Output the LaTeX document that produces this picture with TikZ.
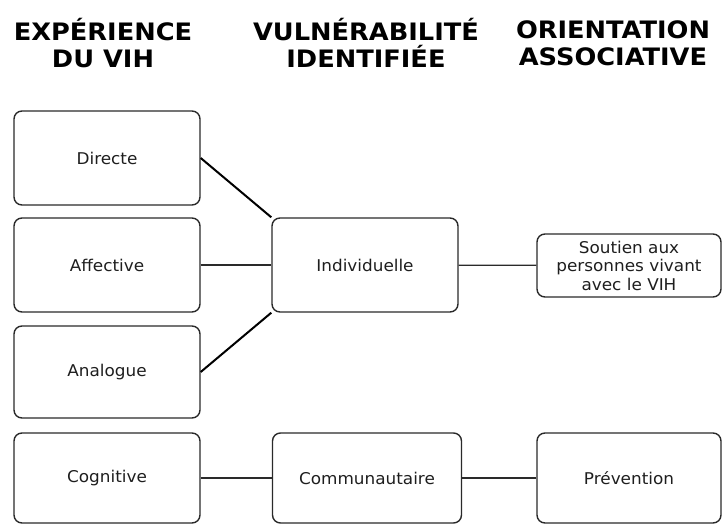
\documentclass[tikz,border=0pt]{standalone}
\usepackage{fontspec}
\setmainfont[FakeStretch=1.04]{DejaVu Sans}
\newfontfamily\headfont[FakeStretch=1.07]{DejaVu Sans}
\usepackage{xcolor}
\usepackage{tikz}
\definecolor{boxline}{HTML}{2A2A2A}
\definecolor{boxtext}{HTML}{1E1E1E}
\tikzset{
    head/.style={font=\headfont\fontsize{24}{27}\selectfont\bfseries, align=center, text=black},
    cell/.style={draw=boxline, line width=1.4pt, rounded corners=8pt, inner sep=2pt,
        font=\fontsize{16.2}{18.5}\selectfont, text=boxtext, align=center},
    link/.style={draw=boxline, line width=1.2pt},
    slant/.style={draw=black, line width=2pt}
}

\begin{document}
\begin{tikzpicture}[x=1pt, y=-1pt]
        \useasboundingbox (0,0) rectangle (724,524);

        \node[head] (hexp)  at (103,43) {EXPÉRIENCE\\DU VIH};
        \node[head] (hvul)  at (366,43) {VULNÉRABILITÉ\\IDENTIFIÉE};
        \node[head] (hori)  at (613,43) {ORIENTATION\\ASSOCIATIVE};

        \node[cell, minimum width=186pt, minimum height=94pt] (directe)   at (107,158) {Directe};
        \node[cell, minimum width=186pt, minimum height=94pt] (affective) at (107,265) {Affective};
        \node[cell, minimum width=186pt, minimum height=92pt] (analogue)  at (107,372) {Analogue};

        \node[cell, minimum width=186pt, minimum height=94pt] (indiv) at (365,265) {Individuelle};
        \node[cell, minimum width=184pt, minimum height=63pt] (soutien) at (629,265.5)
            {Soutien aux\\personnes vivant\\avec le VIH};

        \node[cell, minimum width=186pt, minimum height=90pt] (cogn)  at (107,478) {Cognitive};
        \node[cell, minimum width=189pt, minimum height=90pt] (commu) at (367,478) {Communautaire};
        \node[cell, minimum width=184pt, minimum height=90pt] (prev)  at (629,478) {Prévention};

        \draw[slant] (directe.east) -- (indiv.north west);
        \draw[link] (affective) -- (indiv);
        \draw[slant] (analogue.east) -- (indiv.south west);
        \draw[link] (indiv) -- (soutien);

        \draw[link] (cogn) -- (commu);
        \draw[link] (commu) -- (prev);
    \end{tikzpicture}
\end{document}
